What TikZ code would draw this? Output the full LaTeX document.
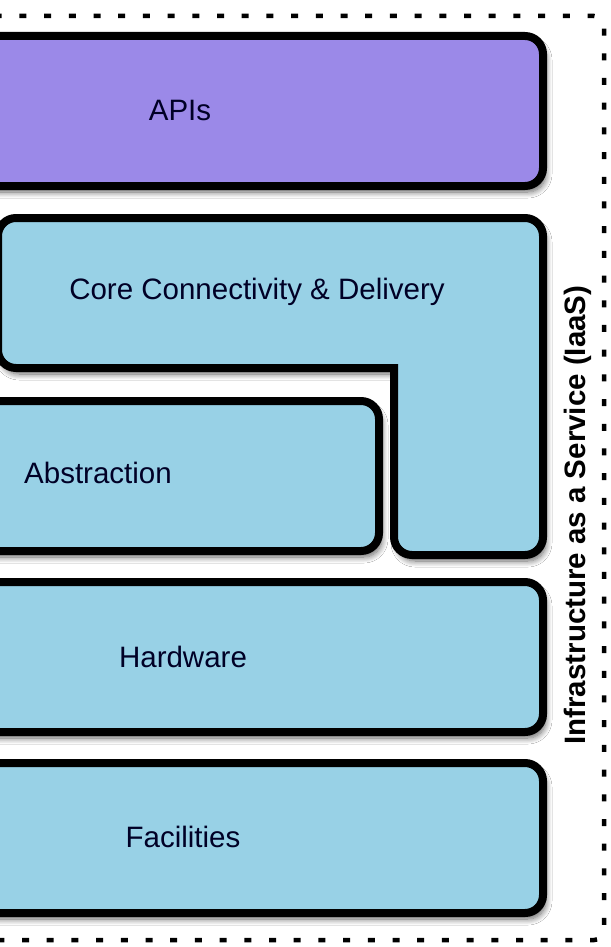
\documentclass[tikz,border=0pt]{standalone}
\usepackage{fontspec}
\setmainfont{Liberation Sans}
\usetikzlibrary{shadows.blur}
\definecolor{apipurple}{RGB}{155,137,232}
\definecolor{layerblue}{RGB}{152,209,230}
\tikzset{
  layershadow/.style={blur shadow={shadow xshift=3pt, shadow yshift=-6pt,
    shadow blur radius=6pt, shadow blur steps=10, shadow opacity=60}},
  layer/.style={draw=black, line width=8pt, rounded corners=18pt, layershadow},
  layertext/.style={font=\fontsize{29.5}{34}\selectfont, text=black!85!blue},
  sidelabel/.style={rotate=90, font=\bfseries\fontsize{29.5}{34}\selectfont},
  border/.style={draw=black, line width=4.5pt, dash pattern=on 7pt off 17.7pt, rounded corners=10pt}
}
\begin{document}
\begin{tikzpicture}[x=1pt,y=1pt]
\useasboundingbox (0,0) rectangle (610,-947);
\clip (0,0) rectangle (610,-947);
\fill[white] (0,0) rectangle (610,-947);
% dotted IaaS frame
\draw[border] (-30,-16) -- (604,-16) -- (604,-940) -- (-30,-940);
% APIs
\draw[layer, fill=apipurple] (-60,-36) rectangle (543,-186);
\node[layertext] (apis) at (180,-110) {APIs};
% Core Connectivity & Delivery (L-shape)
\draw[draw=black, line width=8pt, fill=layerblue, layershadow]
  (16,-218) -- (525,-218) arc[start angle=90, end angle=0, radius=18]
  -- (543,-537) arc[start angle=0, end angle=-90, radius=18]
  -- (412,-555) arc[start angle=270, end angle=180, radius=18]
  -- (394,-368) -- (16,-368) arc[start angle=270, end angle=180, radius=18]
  -- (-2,-236) arc[start angle=180, end angle=90, radius=18] -- cycle;
\node[layertext] (core) at (257,-292) {Core Connectivity \& Delivery};
% Abstraction
\draw[layer, fill=layerblue] (-60,-401) rectangle (379,-551);
\node[layertext] (abstr) at (98,-473) {Abstraction};
% Hardware
\draw[layer, fill=layerblue] (-60,-582) rectangle (543,-732);
\node[layertext] (hw) at (183,-657) {Hardware};
% Facilities
\draw[layer, fill=layerblue] (-60,-763) rectangle (543,-913);
\node[layertext] (fac) at (183,-837) {Facilities};
% side label
\node[sidelabel] (iaas) at (578,-515) {Infrastructure as a Service (IaaS)};
\end{tikzpicture}
\end{document}
